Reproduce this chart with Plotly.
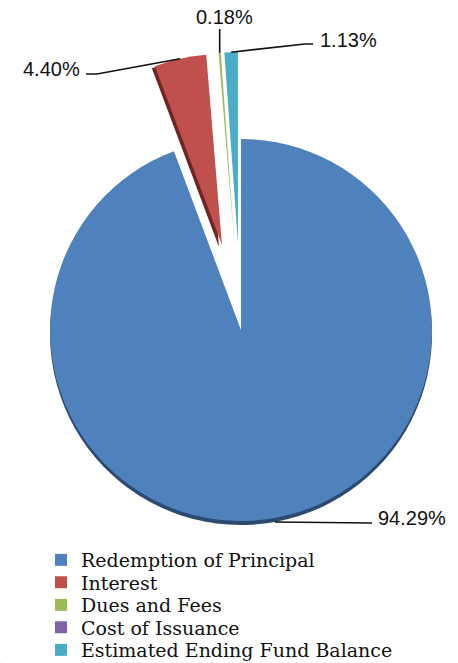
import math
import plotly.graph_objects as go

# ---------------- data ----------------
labels = ["Redemption of Principal", "Interest", "Dues and Fees",
          "Cost of Issuance", "Estimated Ending Fund Balance"]
values = [94.29, 4.40, 0.18, 0.002, 1.13]
colors = ["#4F81BD", "#C0504D", "#9BBB59", "#8064A2", "#4BACC6"]
dark_colors = ["#2C4A70", "#6E2624", "#5E7335", "#4C3B61", "#2B6A7A"]
label_text = ["94.29%", "4.40%", "0.18%", "", "1.13%"]

# ---------------- geometry (pixels) ----------------
W, H = 458, 663
CX, CY, R = 241, 330, 191
EXPLODE = 87          # how far the small slices are pulled out
RIM = 4               # 3-D rim depth
CLEAR = "rgba(0,0,0,0)"
LEGEND_X = 41
LEGEND_ROW0, LEGEND_STEP = 560, 22.5

total = sum(values)
mids = []
acc = 0.0
for v in values:
    a0 = 360 * acc / total
    a1 = 360 * (acc + v) / total
    mids.append((a0 + a1) / 2)
    acc += v


def px(x):
    return x / W


def py(y):
    return 1 - y / H


def domain(cx, cy, r=R):
    return dict(x=[px(cx - r), px(cx + r)], y=[py(cy + r), py(cy - r)])


def polar(cx, cy, ang, r=R):
    t = math.radians(ang)
    return cx + r * math.sin(t), cy - r * math.cos(t)


def one_colour(i, col):
    return [col if j == i else CLEAR for j in range(len(values))]


def pie(cx, cy, cols):
    return go.Pie(
        labels=labels, values=values, sort=False, direction="clockwise",
        rotation=0, textinfo="none", hoverinfo="skip",
        marker=dict(colors=cols, line=dict(width=0)),
        domain=domain(cx, cy), showlegend=False,
    )


fig = go.Figure()

# legend entries: one tiny invisible pie per category, each in its own legend row
legend_layout = {}
for i, (lab, val, col) in enumerate(zip(labels, values, colors)):
    key = "legend" if i == 0 else f"legend{i + 1}"
    fig.add_trace(go.Pie(
        labels=[lab], values=[val], sort=False, textinfo="none",
        hoverinfo="skip", marker=dict(colors=[col], line=dict(width=0)),
        domain=dict(x=[0, 0.0004], y=[0, 0.0004]),
        showlegend=True, legend=key,
    ))
    legend_layout[key] = dict(
        x=px(LEGEND_X), y=py(LEGEND_ROW0 + i * LEGEND_STEP),
        xanchor="left", yanchor="middle",
        font=dict(family="DejaVu Serif", size=19, color="#111111"),
        bgcolor="rgba(0,0,0,0)", itemclick=False, itemdoubleclick=False,
    )

# main slice: rim + face
fig.add_trace(pie(CX, CY + RIM, one_colour(0, dark_colors[0])))
fig.add_trace(pie(CX, CY, one_colour(0, colors[0])))

centers = {0: (CX, CY)}
for i in range(1, len(values)):
    ox, oy = polar(CX, CY, mids[i], EXPLODE)
    centers[i] = (ox, oy)
    if i == 1:
        fig.add_trace(pie(ox - 3, oy + 2, one_colour(i, dark_colors[i])))
    fig.add_trace(pie(ox, oy, one_colour(i, colors[i])))

# ---------------- labels with leader lines ----------------
label_style = {
    0: dict(x=376, y=518, xanchor="left", via=[(372, 523)], arc_dy=RIM),
    1: dict(x=82, y=69, xanchor="right", via=[(97, 74), (86, 74)], arc_dy=0),
    2: dict(x=224, y=17, xanchor="center", via=["up29"], arc_dy=0),
    4: dict(x=318, y=40, xanchor="left", via=[(305, 44), (313, 44)], arc_dy=0),
}

shapes, annotations = [], []
for i, st in label_style.items():
    cx, cy = centers[i]
    ax, ay = polar(cx, cy, mids[i])
    ay += st["arc_dy"]
    pts = [(ax, ay)]
    for p in st["via"]:
        pts.append((ax, 29) if p == "up29" else p)
    path = "M " + " L ".join(f"{px(x):.5f},{py(y):.5f}" for x, y in pts)
    shapes.append(dict(type="path", xref="paper", yref="paper", path=path,
                       line=dict(color="#111111", width=1.6)))
    annotations.append(dict(text=label_text[i], x=px(st["x"]), y=py(st["y"]),
                            xref="paper", yref="paper", xanchor=st["xanchor"],
                            yanchor="middle", showarrow=False,
                            font=dict(family="Liberation Sans", size=20,
                                      color="#111111")))

fig.update_layout(
    width=W, height=H,
    margin=dict(l=0, r=0, t=0, b=0, autoexpand=False),
    paper_bgcolor="white", plot_bgcolor="white",
    shapes=shapes, annotations=annotations,
    **legend_layout,
)

fig.write_html("out.html")
